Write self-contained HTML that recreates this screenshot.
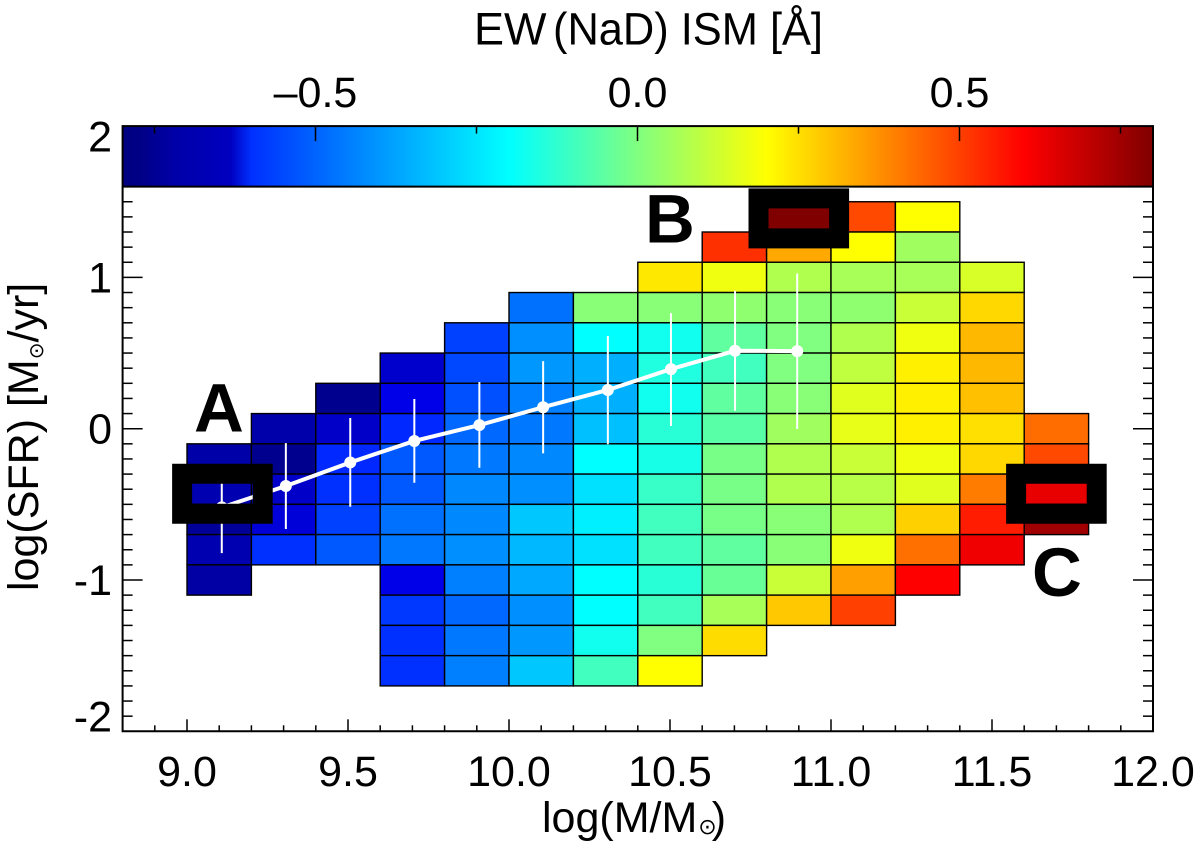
<!DOCTYPE html>
<html lang="en">
<head>
<meta charset="utf-8">
<title>EW(NaD) ISM map</title>
<style>
html,body{margin:0;padding:0;background:#fff;width:1200px;height:845px;overflow:hidden}
svg{display:block}
text{font-family:"Liberation Sans",sans-serif;fill:#000}
</style>
</head>
<body>
<svg id="chart" xmlns="http://www.w3.org/2000/svg" width="1200" height="845" viewBox="0 0 1200 845">
  <text x="474" y="44.5" font-size="45">EW</text>
  <text x="553" y="44.5" font-size="45" textLength="270" lengthAdjust="spacingAndGlyphs">(NaD) ISM [Å]</text>
  <text x="542" y="832" font-size="43">log(M/M<tspan font-family="DejaVu Sans" font-size="22" dx="1" dy="2">⊙</tspan><tspan dx="-5" dy="-2">)</tspan></text>
  <text transform="translate(38,591) rotate(-90)" font-size="43">log(SFR) [M<tspan font-family="DejaVu Sans" font-size="20" dy="5">⊙</tspan><tspan dy="-5">/yr]</tspan></text>
  <g id="cells"></g>
  <g id="trend"></g>
  <g id="markers"></g>
  <g id="axes"></g>
  <g id="colorbar"></g>
  <text x="194" y="431.5" font-size="69" font-weight="bold">A</text>
  <text x="645" y="242.5" font-size="69" font-weight="bold">B</text>
  <text x="1032" y="596" font-size="69" font-weight="bold">C</text>
</svg>
<script>
// ---- data ----
const massBinStarts = [9.0,9.2,9.4,9.6,9.8,10.0,10.2,10.4,10.6,10.8,11.0,11.2,11.4,11.6];
const sfrBinTops = [1.5,1.3,1.1,0.9,0.7,0.5,0.3,0.1,-0.1,-0.3,-0.5,-0.7,-0.9,-1.1,-1.3,-1.5];
const _ = null;
const row00 = [_,_,_,_,_,_,_,_,_,.8,.487,.2,_,_];
const row01 = [_,_,_,_,_,_,_,_,.525,.336,.2,.051,_,_];
const row02 = [_,_,_,_,_,_,_,.236,.176,.076,.064,.064,.139,_];
const row03 = [_,_,_,_,_,-.425,.013,.013,.025,.013,.025,.114,.261,_];
const row04 = [_,_,_,_,-.5,-.375,-.2,-.175,-.05,0,.076,.176,.311,_];
const row05 = [_,_,_,-.68,-.487,-.362,-.324,-.15,-.1,0,.101,.224,.311,_];
const row06 = [_,_,-.776,-.636,-.475,-.4,-.324,-.175,-.05,.013,.151,.224,.299,_];
const row07 = [_,-.733,-.686,-.537,-.437,-.412,-.299,-.137,-.062,.051,.164,.224,.249,.43];
const row08 = [-.736,-.776,-.537,-.462,-.412,-.387,-.2,-.162,-.012,.076,.114,.176,.261,.487];
const row09 = [-.724,-.686,-.525,-.462,-.387,-.375,-.249,-.112,-.012,.076,.089,.151,.405,.636];
const row10 = [-.762,-.661,-.5,-.425,-.387,-.286,-.224,-.1,-.012,.013,.076,.274,.556,.749];
const row11 = [-.724,-.525,-.462,-.412,-.375,-.311,-.249,-.1,-.05,.013,.176,.425,.624,_];
const row12 = [-.743,_,_,-.636,-.4,-.336,-.2,-.137,-.037,.114,.349,.6,_,_];
const row13 = [_,_,_,-.512,-.437,-.375,-.2,-.1,.064,.286,.5,_,_,_];
const row14 = [_,_,_,-.525,-.412,-.362,-.175,0,.255,_,_,_,_,_];
const row15 = [_,_,_,-.525,-.4,-.286,-.1,.2,_,_,_,_,_,_];
const ewValues = [row00,row01,row02,row03,row04,row05,row06,row07,row08,row09,row10,row11,row12,row13,row14,row15];

const trendMass = [9.108,9.307,9.507,9.706,9.908,10.106,10.307,10.503,10.702,10.895];
const trendSfr = [-.52,-.379,-.223,-.081,.024,.142,.256,.394,.515,.513];
const trendHigh = [-.24,-.095,.071,.196,.309,.447,.613,.765,.912,1.027];
const trendLow = [-.822,-.663,-.516,-.357,-.258,-.163,-.103,.018,.119,-.002];

const markerMass = [9.11,10.9,11.7];
const markerSfr = [-.43,1.39,-.43];

const xTickValues = [9.0,9.5,10.0,10.5,11.0,11.5,12.0];
const xTickLabels = ["9.0","9.5","10.0","10.5","11.0","11.5","12.0"];
const yTickValues = [2,1,0,-1,-2];
const yTickLabels = ["2","1","0","-1","-2"];
const cbarTickValues = [-0.5,0.0,0.5];
const cbarTickLabels = ["–0.5","0.0","0.5"];
const cbarMinorValues = [-0.75,-0.25,0.25,0.75];
const cbarStopFractions = [0,.02,.05,.105,.125,.375,.5,.625,.875,1];
const cbarStopColors = ["#000080","#000088","#0000a8","#0000c0","#0030ff","#00ffff","#80ff80","#ffff00","#ff0000","#800000"];

// ---- axis functions ----
const NS = "http://www.w3.org/2000/svg";
const xScale = m => 187 + (m - 9) * 322;
const yScale = s => 428.7 - s * 151.3;
const cbarScale = v => 637.5 + v * 644;
const yBottom = yScale(-2), yTop = yScale(1.6), yBarTop = yScale(2);
const xLeft = xScale(8.8), xRight = xScale(12);

function jet(v){
  const t = Math.min(1, Math.max(0, (v + 0.8) / 1.6));
  const c = x => Math.round(255 * Math.min(1, Math.max(0, x)));
  return "rgb(" + c(Math.min(4*t-1.5, 4.5-4*t)) + "," + c(Math.min(4*t-0.5, 3.5-4*t)) + "," + c(Math.min(4*t+0.5, 2.5-4*t)) + ")";
}
function mk(parent, tag, attrs, text){
  const el = document.createElementNS(NS, tag);
  for (const k in attrs) el.setAttribute(k, attrs[k]);
  if (text !== undefined) el.textContent = text;
  parent.appendChild(el);
  return el;
}

// ---- heatmap ----
const cellsG = document.getElementById("cells");
ewValues.forEach((row, i) => {
  row.forEach((v, j) => {
    if (v === null) return;
    const x0 = xScale(massBinStarts[j]), x1 = xScale(massBinStarts[j] + 0.2);
    const y0 = yScale(sfrBinTops[i]), y1 = yScale(sfrBinTops[i] - 0.2);
    const r = mk(cellsG, "rect", {x:x0, y:y0, width:x1-x0, height:y1-y0, fill:jet(v), stroke:"#000", "stroke-width":1.4});
    
    
  });
});

// ---- trend with error bars ----
const trendG = document.getElementById("trend");
trendMass.forEach((m, i) => {
  const bar = mk(trendG, "line", {x1:xScale(m), x2:xScale(m), y1:yScale(trendHigh[i]), y2:yScale(trendLow[i]), stroke:"#fff", "stroke-width":2});
  
  
});
const trendLine = mk(trendG, "polyline", {points:trendMass.map((m,i)=>xScale(m)+","+yScale(trendSfr[i])).join(" "), fill:"none", stroke:"#fff", "stroke-width":4});


trendMass.forEach((m, i) => {
  const dot = mk(trendG, "circle", {cx:xScale(m), cy:yScale(trendSfr[i]), r:6, fill:"#fff"});
  
  
});

// ---- highlight boxes ----
const markersG = document.getElementById("markers");
markerMass.forEach((m, i) => {
  const cx = xScale(m), cy = yScale(markerSfr[i]);
  const box = mk(markersG, "rect", {x:cx-40.3, y:cy-20, width:80.6, height:40, fill:"none", stroke:"#000", "stroke-width":20});
  
  
});

// ---- axes ----
const axesG = document.getElementById("axes");
const tickAttrs = {stroke:"#000", "stroke-width":1.5};
function tick(x1,y1,x2,y2){
  const t = mk(axesG, "line", Object.assign({x1,y1,x2,y2}, tickAttrs));
  
  
}
for (let k = 1; k < 32; k++){
  const x = xScale(8.8 + k * 0.1);
  tick(x, yBottom, x, yBottom - ((k + 8) % 5 === 0 ? 12 : 6));
}
for (let k = 1; k <= 36; k++){
  const y = yScale(-2 + k * 0.1);
  const len = k % 10 === 0 ? 20 : 10;
  tick(xLeft, y, xLeft + len, y);
  tick(xRight, y, xRight - len, y);
}
const frame = mk(axesG, "path", {d:"M"+xLeft+" "+yTop+"V"+yBottom+"H"+xRight+"V"+yTop, fill:"none", stroke:"#000", "stroke-width":2});



xTickValues.forEach((m, i) => {
  const t = mk(axesG, "text", {x:xScale(m), y:786, "font-size":43, "text-anchor":"middle"}, xTickLabels[i]);
  
  
});
yTickValues.forEach((s, i) => {
  const base = Math.min(731.7, Math.max(151.7, yScale(s) + 15));
  const t = mk(axesG, "text", {x:112, y:base, "font-size":43, "text-anchor":"end"}, yTickLabels[i]);
  
  
});

// ---- colorbar ----
const cbarG = document.getElementById("colorbar");
const defs = mk(cbarG, "defs", {});
const grad = mk(defs, "linearGradient", {id:"jetGradient", x1:"0", x2:"1", y1:"0", y2:"0"});
cbarStopFractions.forEach((f, i) => mk(grad, "stop", {offset:f, "stop-color":cbarStopColors[i]}));
const cbarRect = mk(cbarG, "rect", {x:xLeft, y:yBarTop, width:xRight-xLeft, height:yTop-yBarTop, fill:"url(#jetGradient)", stroke:"#000", "stroke-width":2});


cbarTickValues.forEach((v, i) => {
  const tk = mk(cbarG, "line", {x1:cbarScale(v), x2:cbarScale(v), y1:yBarTop, y2:yBarTop+15, stroke:"#000", "stroke-width":1.5});
  
  
  const t = mk(cbarG, "text", {x:cbarScale(v), y:107, "font-size":43, "text-anchor":"middle"}, cbarTickLabels[i]);
  
  
});
cbarMinorValues.forEach(v => {
  const tk = mk(cbarG, "line", {x1:cbarScale(v), x2:cbarScale(v), y1:yBarTop, y2:yBarTop+7.5, stroke:"#000", "stroke-width":1.5});
  
  
});
</script>
</body>
</html>
